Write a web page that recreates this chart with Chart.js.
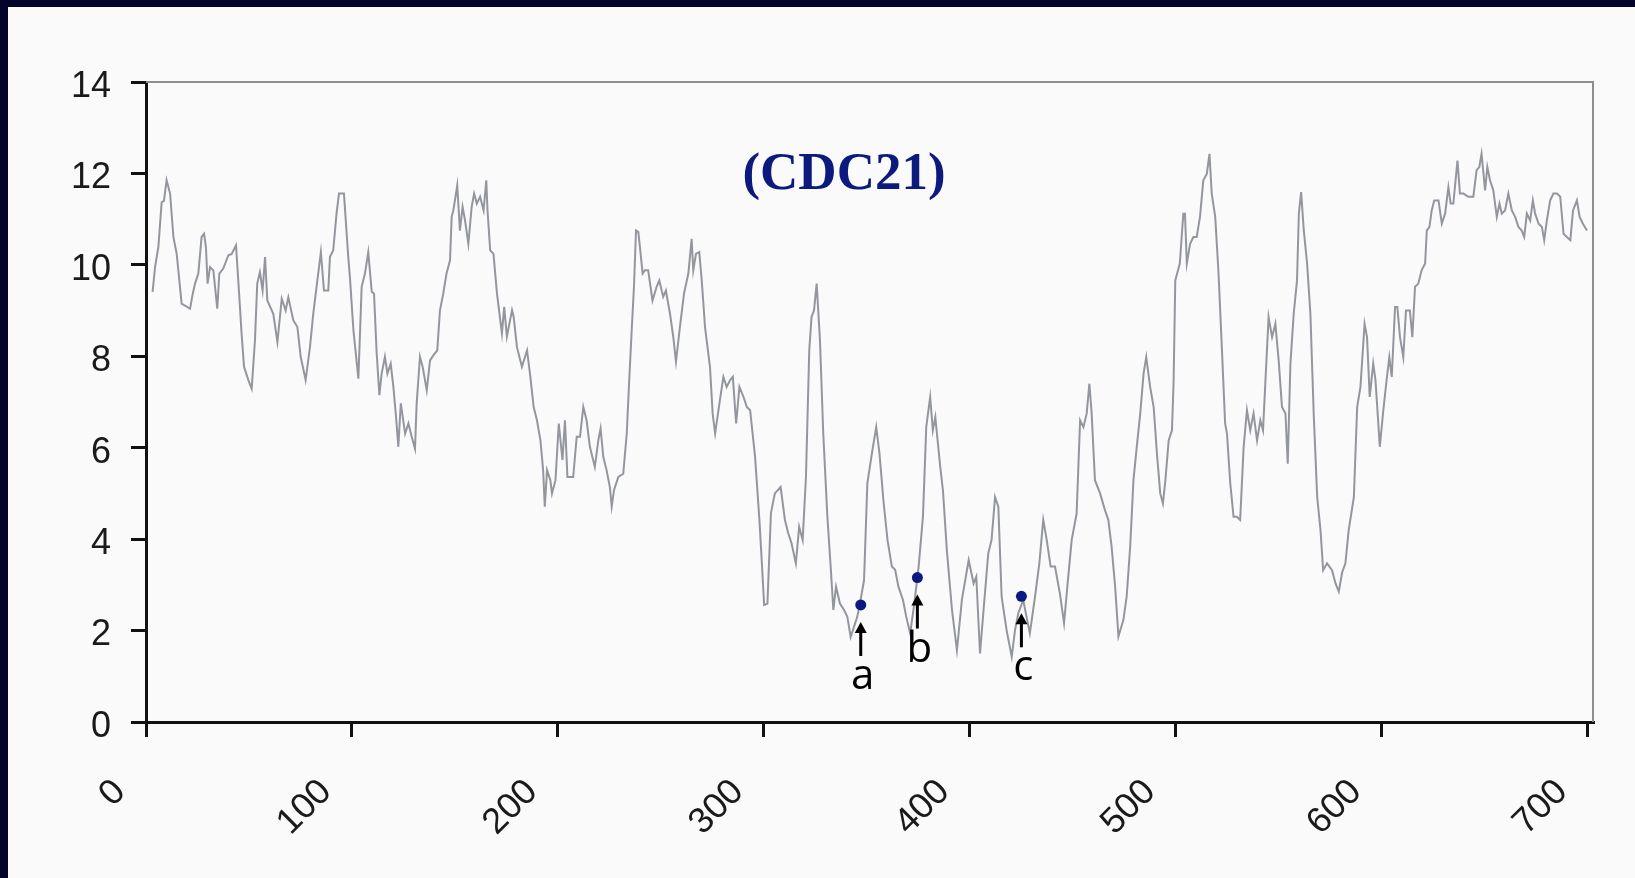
<!DOCTYPE html>
<html>
<head>
<meta charset="utf-8">
<title>CDC21</title>
<script src="https://cdn.jsdelivr.net/npm/chart.js"></script>
<style>
  html, body { margin: 0; padding: 0; }
  body { width: 1635px; height: 878px; background: #03032b; overflow: hidden; }
  #wrap { position: absolute; left: 8px; top: 7px; width: 1627px; height: 871px; background: #fafafa; }
</style>
</head>
<body>
<div id="wrap"><canvas id="profile" width="1627" height="871"></canvas></div>
<script>
// residue positions along the protein and the profile score at each
const positions = [
  3.2, 4.4, 6.0, 7.6, 8.7, 10.0, 11.7, 13.3, 14.9, 17.3, 21.4, 22.7, 23.8, 25.4, 27.0, 28.2, 29.1, 29.9, 31.1, 32.7,
  34.6, 35.6, 37.5, 40.0, 41.6, 43.7, 45.3, 46.4, 47.6, 49.7, 51.3, 52.9, 54.0, 55.3, 56.6, 57.8, 58.9, 61.8, 63.8, 65.9,
  67.8, 69.1, 71.5, 73.5, 75.1, 77.5, 79.6, 81.2, 82.8, 84.9, 86.4, 88.5, 89.3, 90.9, 92.5, 93.7, 96.1, 98.2,
  99.0, 100.7, 103.1, 104.7, 106.3, 107.9, 109.6, 110.7, 112.0, 113.3, 114.4, 116.0, 117.2, 118.8, 120.1, 121.4, 122.5, 123.7,
  125.8, 127.4, 129.0, 130.6, 131.4, 133.0, 134.3, 136.3, 137.9, 139.5, 141.4, 142.7, 144.3, 145.9, 147.6, 148.4, 149.2, 150.5,
  151.1, 152.4, 153.7, 154.9, 156.5, 158.1, 159.3, 160.6, 162.2, 163.9, 165.2, 165.8, 167.1, 168.7, 170.4, 172.8, 173.9, 175.2,
  177.7, 178.5, 180.1, 182.5, 185.0, 186.6, 188.2, 189.8, 191.5, 192.8, 193.6, 194.7, 196.3, 197.1, 198.8, 200.4,
  202.2, 203.4, 204.6, 207.4, 209.1, 210.7, 212.3, 213.9, 215.5, 217.9, 219.6, 220.7, 222.0, 223.6, 225.2, 226.1, 227.2, 229.3,
  231.7, 233.4, 234.6, 235.8, 236.9, 237.9, 239.0, 239.8, 241.1, 242.2, 243.8, 245.9, 247.9, 249.2, 251.1, 252.4, 254.4, 256.0,
  257.3, 259.2, 261.2, 263.3, 264.9, 265.7, 267.0, 268.6, 269.8, 271.4, 273.8, 275.1, 276.3, 278.4, 280.3, 281.9, 283.6, 284.9,
  286.5, 288.1, 290.1, 291.7, 293.3, 295.7, 297.8, 299.0, 300.1, 301.7, 303.4,
  305.3, 308.1, 310.2, 311.8, 313.4, 315.5, 317.1, 318.8, 320.4, 322.0, 323.1, 324.3, 325.6, 327.2, 328.8, 330.8, 332.4, 333.7,
  335.0, 336.9, 338.9, 340.5, 342.1, 343.7, 345.3, 346.6, 348.6, 350.2, 352.4, 354.5, 356.1, 358.0, 360.0, 362.1, 363.7, 365.3,
  367.5, 369.1, 371.0, 373.0, 375.1, 377.2, 378.8, 380.7, 382.0, 383.2, 385.6, 386.9, 388.8, 391.3, 393.7, 396.1, 399.4, 401.8, 403.1,
  404.9, 406.5, 408.9, 410.5, 412.2, 413.8, 415.4, 417.8, 420.3, 421.9, 423.5, 425.9, 427.5, 429.1, 431.6, 433.7, 435.6, 437.3,
  439.2, 441.3, 443.7, 445.7, 447.3, 449.4, 451.8, 453.5, 455.1, 456.7, 458.0, 459.1, 460.7, 463.2, 465.6, 467.2, 468.8, 470.5,
  472.1, 474.5, 476.1, 477.8, 479.4, 481.0, 482.7, 484.3, 485.6, 487.5, 489.2, 490.8, 492.4, 493.7, 494.9, 496.5, 498.1, 498.9, 499.7,
  501.9, 503.6, 504.4, 505.3, 506.9, 508.5, 510.1, 511.7, 513.3, 515.0, 516.3, 517.4, 519.1, 520.7, 522.3, 523.9, 524.8, 526.4,
  528.0, 529.6, 531.2, 532.9, 534.5, 536.1, 537.7, 539.4, 541.0, 542.3, 543.4, 545.0, 546.7, 548.3, 549.9, 551.5, 553.2, 554.3,
  555.6, 557.2, 558.8, 559.7, 560.8, 562.1, 563.7, 565.3, 566.9, 568.6, 570.2, 571.5, 573.4, 575.8, 577.5, 579.1, 580.7, 582.3,
  583.9, 586.4, 588.0, 589.6, 591.6, 592.8, 594.1, 595.8, 596.9,
  599.0, 600.7, 602.3, 603.6, 604.8, 606.4, 607.5, 608.8, 610.4, 611.7, 613.6, 614.8, 616.1, 617.7, 619.3, 621.0, 621.8, 623.1,
  624.2, 625.4, 627.5, 629.1, 630.7, 632.3, 633.4, 634.7, 636.7, 637.9, 639.6, 642.0, 644.4, 646.0, 647.3, 648.4, 650.1, 651.2,
  652.5, 654.1, 655.8, 657.1, 658.2, 659.8, 661.4, 663.1, 664.7, 666.3, 667.9, 669.1, 670.4, 672.0, 673.3, 674.4, 676.1, 677.7,
  678.8, 680.1, 681.7, 683.3, 685.0, 686.6, 688.2, 689.8, 691.5, 692.8, 694.7, 696.0, 697.6, 699.6
];
const scores = [
  9.41, 9.95, 10.39, 11.37, 11.40, 11.85, 11.56, 10.61, 10.24, 9.15, 9.04, 9.37, 9.59, 9.81, 10.61, 10.68, 10.39, 9.59, 9.95, 9.88,
  9.04, 9.81, 9.92, 10.21, 10.24, 10.43, 9.30, 8.50, 7.77, 7.48, 7.29, 8.35, 9.59, 9.84, 9.44, 10.17, 9.22, 8.93, 8.31, 9.26,
  9.00, 9.29, 8.79, 8.64, 7.99, 7.48, 8.20, 8.93, 9.52, 10.28, 9.44, 9.44, 10.17, 10.32, 11.12, 11.56, 11.56, 10.17,
  9.73, 8.57, 7.51, 9.52, 9.81, 10.28, 9.41, 9.37, 8.06, 7.15, 7.62, 7.99, 7.62, 7.84, 7.33, 6.67, 6.02, 6.97,
  6.31, 6.53, 6.24, 5.98, 6.97, 7.99, 7.77, 7.26, 7.91, 8.02, 8.13, 9.00, 9.37, 9.81, 10.10, 11.05, 11.19, 11.56,
  11.74, 10.75, 11.27, 10.97, 10.46, 11.27, 11.56, 11.34, 11.49, 11.19, 11.85, 11.19, 10.32, 10.24, 9.37, 8.50, 9.08, 8.43,
  9.01, 8.86, 8.20, 7.77, 8.13, 7.55, 6.89, 6.60, 6.16, 5.51, 4.71, 5.51, 5.29, 5.00, 5.29, 6.53,
  5.73, 6.60, 5.36, 5.36, 6.24, 6.24, 6.89, 6.60, 6.02, 5.58, 6.16, 6.42, 5.80, 5.51, 5.14, 4.71, 5.07, 5.36,
  5.43, 6.31, 7.48, 8.57, 9.52, 10.75, 10.72, 10.39, 9.81, 9.88, 9.88, 9.22, 9.52, 9.66, 9.30, 9.44, 8.93, 8.42,
  7.88, 8.64, 9.37, 9.81, 10.57, 9.88, 10.24, 10.28, 9.66, 8.64, 7.77, 6.75, 6.31, 6.97, 7.55, 7.33, 7.48, 7.55,
  6.53, 7.33, 7.11, 6.89, 6.82, 5.80, 4.42, 3.47, 2.56, 2.59, 4.57,
  5.00, 5.14, 4.42, 4.13, 3.91, 3.47, 4.27, 3.98, 5.36, 8.13, 8.86, 9.00, 9.59, 8.35, 6.31, 4.49, 3.40, 2.45,
  2.96, 2.59, 2.45, 2.30, 1.86, 2.08, 2.30, 2.59, 3.10, 5.22, 5.87, 6.45, 5.87, 4.85, 3.98, 3.40, 3.33, 2.96,
  2.67, 2.30, 1.94, 2.59, 3.40, 4.49, 6.45, 7.11, 6.38, 6.67, 5.58, 5.07, 3.76, 2.45, 1.57, 2.67, 3.54, 3.03, 3.18,
  1.50, 2.38, 3.69, 3.98, 4.92, 4.71, 2.74, 2.01, 1.43, 2.01, 2.38, 2.67, 2.30, 1.94, 2.74, 3.47, 4.42, 3.98,
  3.40, 3.40, 2.81, 2.16, 2.96, 3.98, 4.56, 6.60, 6.45, 6.75, 7.40, 6.75, 5.29, 5.00, 4.63, 4.42, 3.83, 2.96,
  1.87, 2.23, 2.74, 3.83, 5.29, 6.02, 6.75, 7.62, 7.98, 7.33, 6.89, 5.87, 5.00, 4.78, 5.29, 6.16, 6.38, 7.47, 9.66,
  10.03, 11.12, 11.12, 10.03, 10.46, 10.61, 10.61, 11.05, 11.85, 11.99, 12.43, 11.56, 11.05, 9.81, 8.20, 6.53, 6.31, 5.22,
  4.49, 4.49, 4.42, 6.02, 6.82, 6.38, 6.75, 6.16, 6.60, 6.38, 7.40, 8.86, 8.42, 8.71, 7.91, 6.89, 6.75, 5.65,
  7.84, 8.93, 9.66, 11.12, 11.59, 10.75, 10.03, 8.93, 6.75, 4.92, 4.20, 3.32, 3.47, 3.32, 3.03, 2.85, 3.27, 3.47,
  4.20, 4.92, 6.89, 7.33, 8.71, 8.42, 7.11, 7.84, 7.48,
  6.02, 6.82, 7.48, 7.98, 7.55, 9.08, 9.08, 8.42, 7.98, 9.00, 9.00, 8.42, 9.52, 9.59, 9.88, 10.03, 10.75, 10.83,
  11.19, 11.41, 11.41, 10.90, 11.12, 11.70, 11.34, 11.34, 12.28, 11.56, 11.56, 11.49, 11.49, 12.07, 12.14, 12.43, 11.63, 12.14,
  11.85, 11.63, 11.05, 11.34, 11.12, 11.19, 11.56, 11.19, 11.05, 10.83, 10.75, 10.61, 11.12, 10.97, 11.41, 11.12, 10.90, 10.83,
  10.54, 10.97, 11.41, 11.56, 11.56, 11.49, 10.68, 10.61, 10.54, 11.19, 11.41, 11.05, 10.90, 10.75
];

// marked residues a, b, c
const markLabels = ['a', 'b', 'c'];
const markPositions = [347, 374.5, 425];
const markScores = [2.56, 3.16, 2.75];

const xTicks = [0, 100, 200, 300, 400, 500, 600, 700];
const yTicks = [0, 2, 4, 6, 8, 10, 12, 14];
const chartTitle = '(CDC21)';

const tickFont = { family: '"Liberation Sans", Arial, sans-serif', size: 36 };

const decorations = {
    id: 'decorations',
    afterDatasetsDraw(chart) {
        const { ctx, chartArea: area, scales } = chart;
        ctx.save();

        // grey top and right frame of the plot box
        ctx.strokeStyle = '#8e8e8e';
        ctx.lineWidth = 2;
        ctx.beginPath();
        ctx.moveTo(area.left, area.top);
        ctx.lineTo(area.right, area.top);
        ctx.lineTo(area.right, area.bottom);
        ctx.stroke();

        ctx.fillStyle = '#0b1a7c';
        ctx.font = 'bold 53px "Liberation Serif", "Times New Roman", serif';
        ctx.textAlign = 'center';
        ctx.textBaseline = 'middle';
        ctx.fillText(chartTitle, area.left + 698, area.top + 93);

        // arrows and letters under the marked points
        ctx.strokeStyle = '#000';
        ctx.fillStyle = '#000';
        ctx.lineWidth = 3;
        ctx.font = '42px "Open Sans", "Liberation Sans", sans-serif';
        ctx.textBaseline = 'alphabetic';
        for (let i = 0; i < markLabels.length; i++) {
            const px = scales.x.getPixelForValue(markPositions[i]);
            const py = scales.y.getPixelForValue(markScores[i]);
            const tip = py + 17;
            ctx.beginPath();
            ctx.moveTo(px, tip + 8);
            ctx.lineTo(px, tip + 34);
            ctx.stroke();
            ctx.beginPath();
            ctx.moveTo(px, tip);
            ctx.lineTo(px - 6, tip + 11);
            ctx.lineTo(px + 6, tip + 11);
            ctx.closePath();
            ctx.fill();
            ctx.fillText(markLabels[i], px + 2, py + 84);
        }
        ctx.restore();
    }
};

new Chart(document.getElementById('profile'), {
    type: 'line',
    data: {
        datasets: [
            {
                type: 'scatter',
                data: markPositions.map((p, i) => ({ x: p, y: markScores[i] })),
                pointRadius: 5.5,
                pointBackgroundColor: '#0b1a80',
                pointBorderWidth: 0,
                order: 1
            },
            {
                data: positions.map((p, i) => ({ x: p, y: scores[i] })),
                borderColor: '#94969e',
                borderWidth: 2,
                pointRadius: 0,
                tension: 0,
                order: 2
            }
        ]
    },
    options: {
        responsive: false,
        animation: false,
        layout: { padding: { top: 75, right: 42, bottom: 0, left: 0 } },
        plugins: { legend: { display: false }, tooltip: { enabled: false } },
        scales: {
            x: {
                type: 'linear',
                min: 0,
                max: 702.5,
                afterBuildTicks: s => { s.ticks = xTicks.map(v => ({ value: v })); },
                afterFit: s => { s.height = 156; s.paddingLeft = 0; s.paddingRight = 0; },
                border: { color: '#111', width: 3 },
                grid: { drawOnChartArea: false, drawTicks: true, tickLength: 15, color: '#111', lineWidth: 3 },
                ticks: {
                    autoSkip: false, minRotation: 45, maxRotation: 45,
                    padding: 34, labelOffset: -26, color: '#1a1a1a', font: tickFont
                }
            },
            y: {
                min: 0,
                max: 14,
                afterBuildTicks: s => { s.ticks = yTicks.map(v => ({ value: v })); },
                afterFit: s => { s.width = 138; s.paddingTop = 0; s.paddingBottom = 0; },
                border: { color: '#111', width: 3 },
                grid: { drawOnChartArea: false, drawTicks: true, tickLength: 15, color: '#111', lineWidth: 3 },
                ticks: { padding: 20, labelOffset: 5, color: '#1a1a1a', font: tickFont }
            }
        }
    },
    plugins: [decorations]
});
</script>
</body>
</html>
